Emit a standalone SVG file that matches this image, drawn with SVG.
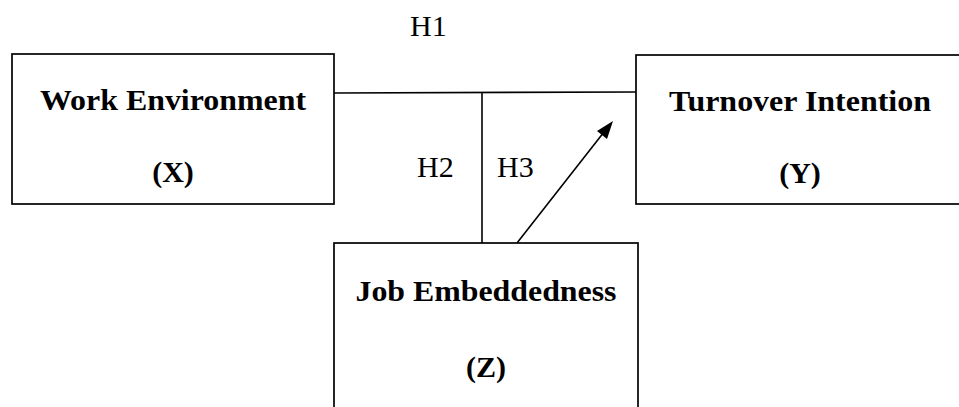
<svg xmlns="http://www.w3.org/2000/svg" width="959" height="407" viewBox="0 0 959 407">
<style>
.box{fill:#fff;stroke:#000;stroke-width:1.7}
.lbl{font-family:"Liberation Serif","Times New Roman",serif;font-size:30px;font-weight:bold;fill:#000;text-anchor:middle}
.h{font-family:"Liberation Serif","Times New Roman",serif;font-size:30px;fill:#000}
.ln{stroke:#000;stroke-width:1.6;fill:none}
</style>
<rect width="959" height="407" fill="#fff"/>
<g id="connectors">
<line class="ln" x1="334" y1="93" x2="636" y2="92"/>
<line class="ln" x1="482" y1="93" x2="482" y2="243"/>
<line class="ln" x1="517" y1="243" x2="604" y2="132"/>
<path d="M613,121 L597,131 L607,139 z" fill="#000"/>
</g>
<g id="node-x">
<rect class="box" x="12" y="54" width="322" height="150"/>
<text class="lbl" x="173" y="110" textLength="266" lengthAdjust="spacingAndGlyphs">Work Environment</text>
<text class="lbl" x="173" y="182">(X)</text>
</g>
<g id="node-y">
<rect class="box" x="636" y="55" width="330" height="149"/>
<text class="lbl" x="800" y="111" textLength="262" lengthAdjust="spacingAndGlyphs">Turnover Intention</text>
<text class="lbl" x="800" y="183">(Y)</text>
</g>
<g id="node-z">
<rect class="box" x="334" y="243" width="304" height="180"/>
<text class="lbl" x="486" y="301" textLength="261" lengthAdjust="spacingAndGlyphs">Job Embeddedness</text>
<text class="lbl" x="486" y="377">(Z)</text>
</g>
<g id="labels">
<text class="h" x="410" y="36">H1</text>
<text class="h" x="417" y="177">H2</text>
<text class="h" x="497" y="177">H3</text>
</g>
</svg>
